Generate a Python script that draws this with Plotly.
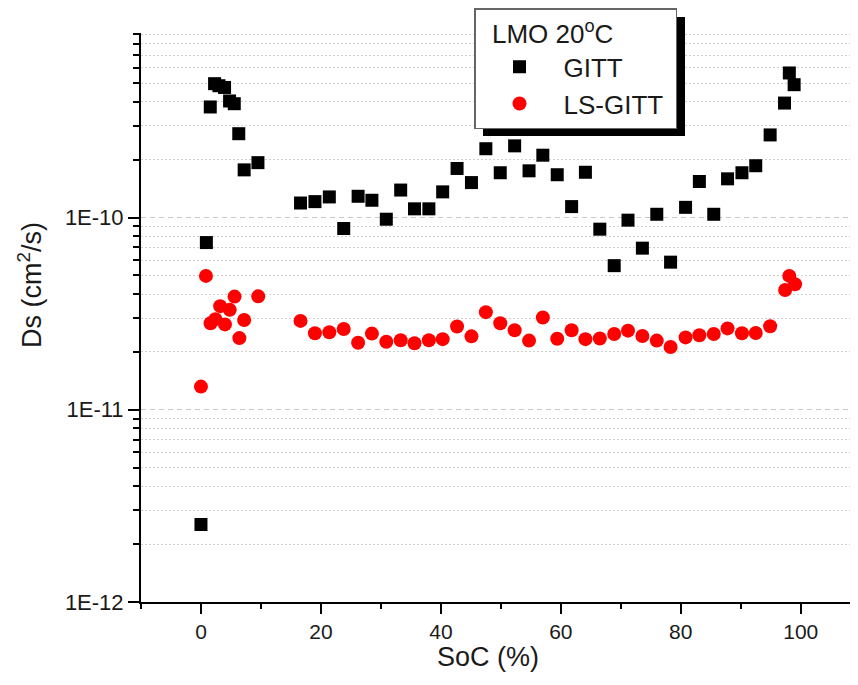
import plotly.graph_objects as go

# ---- data ----
soc_gitt = [0.0, 0.9, 1.55, 2.27, 3.0, 3.93, 4.77, 5.55, 6.3, 7.2,
            9.5, 16.6, 19.0, 21.4, 23.8, 26.2, 28.5, 30.9, 33.3, 35.6,
            38.0, 40.3, 42.7, 45.1, 47.5, 49.9, 52.3, 54.7, 57.0, 59.4,
            61.8, 64.1, 66.5, 68.9, 71.2, 73.6, 76.0, 78.3, 80.8, 83.1,
            85.5, 87.8, 90.2, 92.5, 94.9, 97.3, 98.1, 98.9]
ds_gitt = [2.53e-12, 7.41e-11, 3.76e-10, 4.97e-10, 4.85e-10, 4.75e-10, 4.04e-10, 3.91e-10, 2.73e-10, 1.77e-10,
           1.93e-10, 1.19e-10, 1.21e-10, 1.28e-10, 8.77e-11, 1.29e-10, 1.23e-10, 9.8e-11, 1.39e-10, 1.11e-10,
           1.11e-10, 1.36e-10, 1.80e-10, 1.52e-10, 2.28e-10, 1.71e-10, 2.36e-10, 1.75e-10, 2.11e-10, 1.67e-10,
           1.14e-10, 1.72e-10, 8.7e-11, 5.62e-11, 9.69e-11, 6.93e-11, 1.04e-10, 5.86e-11, 1.13e-10, 1.54e-10,
           1.04e-10, 1.59e-10, 1.71e-10, 1.86e-10, 2.69e-10, 3.94e-10, 5.65e-10, 4.91e-10]

soc_ls = [0.0, 0.83, 1.6, 2.4, 3.2, 4.0, 4.8, 5.6, 6.4, 7.2,
          9.55, 16.6, 19.0, 21.4, 23.8, 26.2, 28.5, 30.9, 33.3, 35.6,
          38.0, 40.3, 42.7, 45.1, 47.5, 49.9, 52.3, 54.7, 57.0, 59.4,
          61.8, 64.1, 66.5, 68.9, 71.2, 73.6, 76.0, 78.3, 80.8, 83.1,
          85.5, 87.8, 90.2, 92.5, 94.9, 97.4, 98.1, 99.05]
ds_ls = [1.32e-11, 4.97e-11, 2.82e-11, 2.96e-11, 3.46e-11, 2.78e-11, 3.31e-11, 3.88e-11, 2.36e-11, 2.93e-11,
         3.89e-11, 2.90e-11, 2.50e-11, 2.53e-11, 2.63e-11, 2.23e-11, 2.49e-11, 2.26e-11, 2.30e-11, 2.22e-11,
         2.30e-11, 2.33e-11, 2.71e-11, 2.41e-11, 3.22e-11, 2.82e-11, 2.59e-11, 2.29e-11, 3.02e-11, 2.34e-11,
         2.59e-11, 2.33e-11, 2.35e-11, 2.48e-11, 2.58e-11, 2.42e-11, 2.29e-11, 2.12e-11, 2.38e-11, 2.44e-11,
         2.48e-11, 2.65e-11, 2.50e-11, 2.51e-11, 2.72e-11, 4.2e-11, 4.97e-11, 4.5e-11]

y_tick_vals = [1e-12, 1e-11, 1e-10]
y_tick_text = ["1E-12", "1E-11", "1E-10"]
x_tick_vals = [0, 20, 40, 60, 80, 100]

legend_title = "\u00a0\u00a0LMO 20<sup>o</sup>C"
x_title = "SoC (%)"
y_title = "Ds (cm<sup>2</sup>/s)"

# minor tick positions on the log axis (2..9 x each decade)
y_minor = [m * d for d in (1e-12, 1e-11, 1e-10) for m in range(2, 10)]

FONT = "Liberation Sans, Arial, sans-serif"
TXT = "#1a1a1a"

fig = go.Figure()
fig.add_trace(go.Scatter(
    x=soc_gitt, y=ds_gitt, mode="markers", name="GITT",
    marker=dict(symbol="square", size=13, color="black", line=dict(width=0)),
))
fig.add_trace(go.Scatter(
    x=soc_ls, y=ds_ls, mode="markers", name="LS-GITT\u00a0",
    marker=dict(symbol="circle", size=14, color="#ff0000", line=dict(width=0)),
))

# the page body has an 8px margin: the figure starts at window (8, 8)
OFF = 8
W, H = 858 - OFF, 685 - OFF
ML, MT = 141 - OFF, 33 - OFF
MR = 0
MB = H - (602 - OFF)
PW, PH = W - ML - MR, H - MT - MB

def px_x(px):
    # window pixel -> paper fraction
    return (px - OFF - ML) / PW

def px_y(py):
    return (H - MB - (py - OFF)) / PH

fig.update_layout(
    width=W, height=H,
    margin=dict(l=ML, r=MR, t=MT, b=MB, autoexpand=False),
    paper_bgcolor="white", plot_bgcolor="white",
    font=dict(family=FONT, color=TXT, size=21),
    showlegend=True,
    legend=dict(
        x=px_x(474), y=px_y(8), xanchor="left", yanchor="top",
        bgcolor="white", bordercolor="#666", borderwidth=1.5,
        font=dict(size=26, family=FONT, color=TXT),
        title=dict(text=legend_title, side="top", font=dict(size=26, family=FONT, color=TXT)),
        itemsizing="trace", itemwidth=78, tracegroupgap=0,
    ),
    xaxis=dict(
        range=[-10, 109.55], showgrid=False, zeroline=False,
        showline=True, linecolor="black", linewidth=2,
        tickmode="array", tickvals=x_tick_vals,
        ticks="outside", ticklen=10, tickwidth=2, tickcolor="black",
        tickfont=dict(size=21, family=FONT, color=TXT),
        minor=dict(dtick=10, tick0=0, ticks="outside", ticklen=5, tickwidth=2, tickcolor="black", showgrid=False),
    ),
    yaxis=dict(
        type="log", range=[-12, -9.04], zeroline=False,
        showline=True, linecolor="black", linewidth=2,
        tickmode="array", tickvals=y_tick_vals, ticktext=y_tick_text,
        ticks="outside", ticklen=11, tickwidth=2, tickcolor="black",
        tickfont=dict(size=22, family=FONT, color=TXT),
        showgrid=True, gridcolor="#c8c8c8", gridwidth=1.2, griddash="5px,4px",
        minor=dict(tickmode="array", tickvals=y_minor, ticks="outside", ticklen=6,
                   tickwidth=2, tickcolor="black",
                   showgrid=True, gridcolor="#d0d0d0", gridwidth=1.2, griddash="1.5px,2.5px"),
    ),
    shapes=[dict(
        type="rect", xref="paper", yref="paper",
        x0=px_x(483), x1=px_x(685), y0=px_y(136), y1=px_y(17),
        fillcolor="black", line=dict(width=0), layer="above",
    )],
    annotations=[
        dict(text=x_title, xref="paper", yref="paper", x=px_x(488), y=px_y(657),
             xanchor="center", yanchor="middle", showarrow=False,
             font=dict(size=27, family=FONT, color=TXT)),
        dict(text=y_title, xref="paper", yref="paper", x=px_x(30), y=px_y(285),
             xanchor="center", yanchor="middle", showarrow=False, textangle=-90,
             font=dict(size=27, family=FONT, color=TXT)),
    ],
)

fig.write_html("out.html")
